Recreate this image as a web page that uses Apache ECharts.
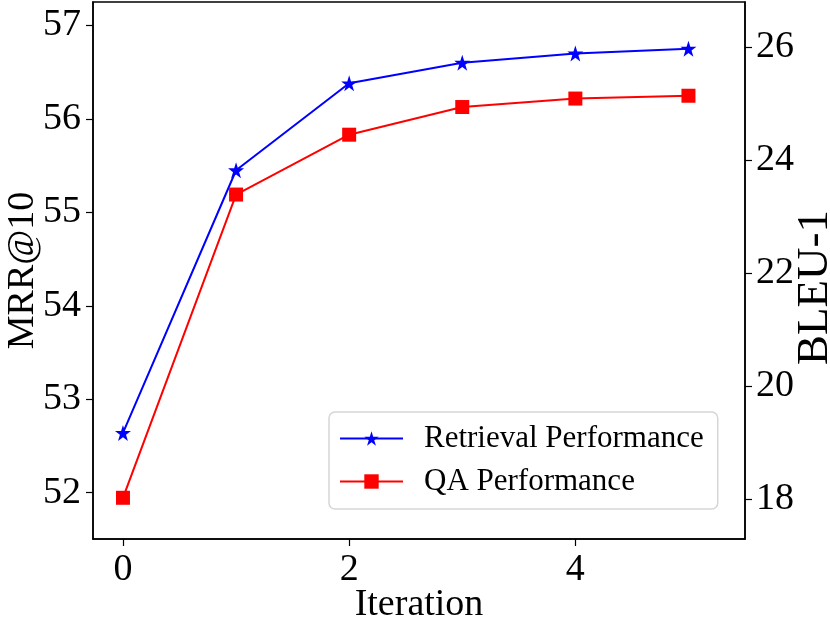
<!DOCTYPE html>
<html><head><meta charset="utf-8">
<script src="https://cdn.jsdelivr.net/npm/echarts@6/dist/echarts.min.js"></script>
<style>html,body{margin:0;padding:0;background:#fff}#c{width:830px;height:621px}</style>
</head><body><div id="c"></div>
<script>
const iterations = [0, 1, 2, 3, 4, 5];
const retrievalMRR = [52.64, 55.45, 56.38, 56.60, 56.70, 56.75];
const qaBLEU = [18.02, 23.39, 24.45, 24.94, 25.09, 25.14];
const xTicks = [0, 2, 4];
const leftTicks = [52, 53, 54, 55, 56, 57];
const rightTicks = [18, 20, 22, 24, 26];

const F = 'Liberation Serif, Times New Roman, serif';
const star = 'path://M50,0 L61.2,34.5 L97.6,34.5 L68.2,55.9 L79.4,90.5 L50,69.1 L20.6,90.5 L31.8,55.9 L2.4,34.5 L38.8,34.5 Z';
const chart = echarts.init(document.getElementById('c'), null, {renderer: 'canvas'});
const axisCommon = {
  axisLine: {show: true, onZero: false, lineStyle: {color: '#000', width: 1.5}},
  axisTick: {show: true, inside: false, length: 7, lineStyle: {color: '#000', width: 1.2}},
  splitLine: {show: false},
  nameMoveOverlap: false,
  axisLabel: {color: '#000', fontFamily: F, fontSize: 38},
  nameTextStyle: {color: '#000', fontFamily: F, fontSize: 38}
};
chart.setOption({
  animation: false,
  backgroundColor: '#fff',
  grid: {left: 93, right: 85, top: 2, bottom: 82, containLabel: false, outerBoundsMode: 'none',
         show: true, borderColor: '#000', borderWidth: 1.5, backgroundColor: 'transparent'},
  legend: {
    left: 329, top: 412, width: 388, orient: 'vertical',
    itemWidth: 63, itemHeight: 18, itemGap: 12,
    padding: [11, 14, 12, 10],
    backgroundColor: '#fff', borderColor: '#d6d6d6', borderWidth: 1.5, borderRadius: 6,
    textStyle: {color: '#000', fontFamily: F, fontSize: 31, padding: [0, 0, 0, 16]},
    data: ['Retrieval Performance', 'QA Performance']
  },
  xAxis: Object.assign({}, axisCommon, {
    type: 'value', min: -0.265, max: 5.5, interval: 1,
    name: 'Iteration', nameLocation: 'middle', nameGap: 47,
    axisLabel: Object.assign({}, axisCommon.axisLabel, {margin: 12, customValues: xTicks}),
    axisTick: Object.assign({}, axisCommon.axisTick, {customValues: xTicks})
  }),
  yAxis: [
    Object.assign({}, axisCommon, {
      type: 'value', min: 51.505, max: 57.25, position: 'left',
      name: 'MRR@10', nameLocation: 'middle', nameGap: 51,
      axisLabel: Object.assign({}, axisCommon.axisLabel, {margin: 12, customValues: leftTicks}),
      axisTick: Object.assign({}, axisCommon.axisTick, {customValues: leftTicks})
    }),
    Object.assign({}, axisCommon, {
      type: 'value', min: 17.29, max: 26.8, position: 'right',
      name: 'BLEU-1', nameLocation: 'middle', nameGap: 48, nameRotate: 90,
      nameTextStyle: {color: '#000', fontFamily: F, fontSize: 45, padding: [0, 34, 0, 0]},
      axisLabel: Object.assign({}, axisCommon.axisLabel, {margin: 11, customValues: rightTicks}),
      axisTick: Object.assign({}, axisCommon.axisTick, {customValues: rightTicks})
    })
  ],
  series: [
    {name: 'Retrieval Performance', type: 'line', yAxisIndex: 0,
     data: iterations.map((x, i) => [x, retrievalMRR[i]]),
     symbol: star, symbolSize: 16, showAllSymbol: true,
     lineStyle: {color: '#0000ff', width: 2}, itemStyle: {color: '#0000ff'}},
    {name: 'QA Performance', type: 'line', yAxisIndex: 1,
     data: iterations.map((x, i) => [x, qaBLEU[i]]),
     symbol: 'rect', symbolSize: 14, showAllSymbol: true,
     lineStyle: {color: '#ff0000', width: 2}, itemStyle: {color: '#ff0000'}}
  ]
});
</script></body></html>
